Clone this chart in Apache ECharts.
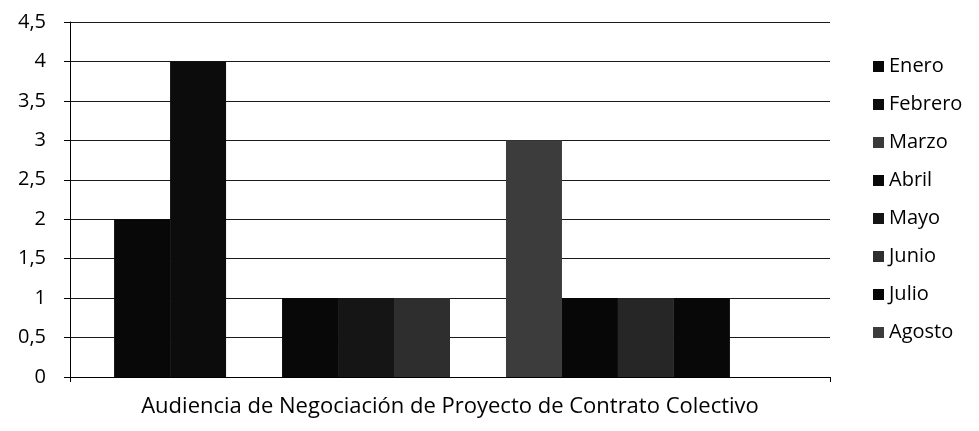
<!DOCTYPE html>
<html>
<head>
<meta charset="utf-8">
<script src="https://cdn.jsdelivr.net/npm/echarts@6/dist/echarts.min.js"></script>
<style>
  html, body { margin: 0; padding: 0; background: #fff; }
  #main { width: 979px; height: 431px; }
</style>
</head>
<body>
<div id="main"></div>
<script>
const categories = ['Audiencia de Negociación de Proyecto de Contrato Colectivo']
const months = ['Enero', 'Febrero', 'Marzo', 'Abril', 'Mayo', 'Junio', 'Julio', 'Agosto',
   'Septiembre', 'Octubre', 'Noviembre', 'Diciembre']
const values = [2, 4, 0, 1, 1, 1, 0, 3, 1, 1, 1, 0]
const legendShown = ['Enero', 'Febrero', 'Marzo', 'Abril', 'Mayo', 'Junio', 'Julio', 'Agosto']
const colors = ['#080808', '#0c0c0c', '#3a3a3a', '#080808', '#151515', '#2e2e2e',
   '#060606', '#3c3c3c', '#070707', '#262626', '#080808', '#3a3a3a']

let myChart = echarts.init(document.getElementById('main'))

const font = 'Open Sans'

myChart.setOption({
   animation: false,
   grid: {
      left: 70,
      right: 149,
      top: 22,
      bottom: 54
   },
   legend: {
      data: legendShown,
      orient: 'vertical',
      left: 868,
      top: 51,
      itemWidth: 11,
      itemHeight: 11,
      itemGap: 17,
      icon: 'rect',
      textStyle: {
         fontFamily: font,
         fontSize: 20,
         lineHeight: 21,
         color: '#000'
      }
   },
   xAxis: {
      type: 'category',
      data: categories,
      axisLine: { lineStyle: { color: '#000', width: 1 } },
      axisTick: { show: true, length: 5, lineStyle: { color: '#000' } },
      axisLabel: {
         fontFamily: font,
         fontSize: 22,
         color: '#000',
         margin: 19
      }
   },
   yAxis: {
      type: 'value',
      min: 0,
      max: 4.5,
      interval: 0.5,
      axisLine: { show: true, lineStyle: { color: '#000', width: 1 } },
      axisTick: { show: true, length: 6, lineStyle: { color: '#000' } },
      splitLine: { lineStyle: { color: '#1a1a1a', width: 1 } },
      axisLabel: {
         fontFamily: font,
         fontSize: 20,
         color: '#000',
         margin: 24,
         formatter: v => String(v).replace('.', ',')
      }
   },
   series: months.map((m, i) => ({
      name: m,
      type: 'bar',
      data: [values[i]],
      barGap: '0%',
      barCategoryGap: '11.6%',
      itemStyle: { color: colors[i] }
   }))
})
</script>
</body>
</html>
